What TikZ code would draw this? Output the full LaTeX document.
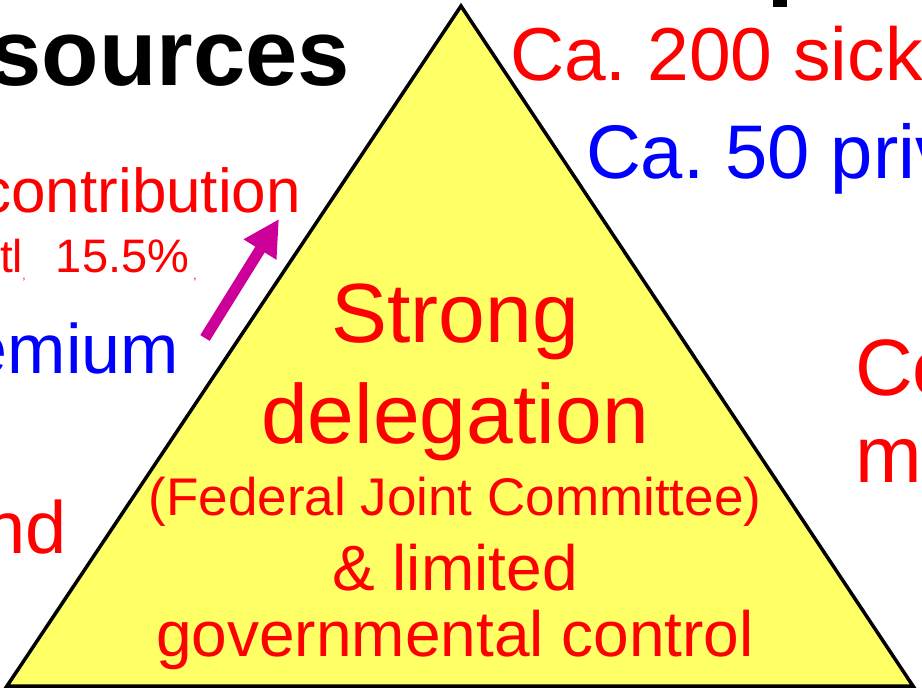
\documentclass[tikz,border=0pt]{standalone}
\usepackage{fontspec}
\setmainfont{Liberation Sans}
\usetikzlibrary{arrows.meta}
\definecolor{pyryellow}{RGB}{255,255,102}
\definecolor{arrmagenta}{RGB}{204,0,153}
\newcommand{\pxfont}[1]{\fontsize{#1}{#1}\selectfont}
\frenchspacing
\tikzset{
    base-text/.style={inner sep=0pt, outer sep=0pt},
    red-text/.style={base-text, text=red},
    blue-text/.style={base-text, text=blue},
}

\begin{document}
\begin{tikzpicture}[x=1pt, y=-1pt]
        \useasboundingbox (0,0) rectangle (922,691);
        \clip (0,0) rectangle (922,691);

        % PYRAMID
        \coordinate (TOP) at (461,6);
        \coordinate (BL)  at (7,686);
        \coordinate (BR)  at (913,686);
        \draw[fill=pyryellow, line width=3.5pt] (TOP) -- (BL) -- (BR) -- cycle;

        % HEADINGS
        \node[base-text, anchor=base east, font=\pxfont{94}\bfseries] (SRC) at (350,85) {sources};
        \fill (773,0) rectangle (787,7);

        % LEFT LABELS
        \node[red-text, anchor=base east, font=\pxfont{62}]  (CONTRIB) at (301,212) {contribution};
        \node[red-text, anchor=base east, font=\pxfont{46}]  (TTL)     at (23,272)  {tl};
        \node[red-text, anchor=base west, font=\pxfont{47}]  (RATE)    at (56,272)  {15.5\%};
        \node[red-text, anchor=north, font=\pxfont{12}]      (TICK1)   at (24,278)  {,};
        \node[red-text, anchor=north, font=\pxfont{12}]      (TICK2)   at (195,278) {,};
        \node[blue-text, anchor=base east, font=\pxfont{70}] (PREM)    at (179,373) {emium};
        \node[red-text, anchor=base east, font=\pxfont{74}]  (ND)      at (67,553)  {nd};

        % RIGHT LABELS
        \node[red-text, anchor=base west, font=\pxfont{75}]  (SICK)  at (510,80)  {Ca. 200 sick};
        \node[blue-text, anchor=base west, font=\pxfont{76}] (PRIV)  at (586,178) {Ca. 50 priv};
        \node[red-text, anchor=base west, font=\pxfont{80}]  (CO)    at (855,395) {Co};
        \node[red-text, anchor=base west, font=\pxfont{80}]  (ME)    at (855,482) {me};

        % PYRAMID TEXT
        \node[red-text, anchor=base, font=\pxfont{84}] (STRONG) at (455,342) {Strong};
        \node[red-text, anchor=base, font=\pxfont{84}] (DELEG)  at (455,443) {delegation};
        \node[red-text, anchor=base, font=\pxfont{53}] (FJC)    at (455,515) {(Federal Joint Committee)};
        \node[red-text, anchor=base, font=\pxfont{64}] (LIM)    at (455,590) {\& limited};
        \node[red-text, anchor=base, font=\pxfont{64}] (GOV)    at (455,656) {governmental control};

        % ARROW
        \coordinate (ARRTAIL) at (205,338);
        \coordinate (ARRTIP)  at (279,219);
        \draw[arrmagenta, line width=11pt, -{Triangle[length=36pt, width=36pt]}] (ARRTAIL) -- (ARRTIP);

\end{tikzpicture}
\end{document}
